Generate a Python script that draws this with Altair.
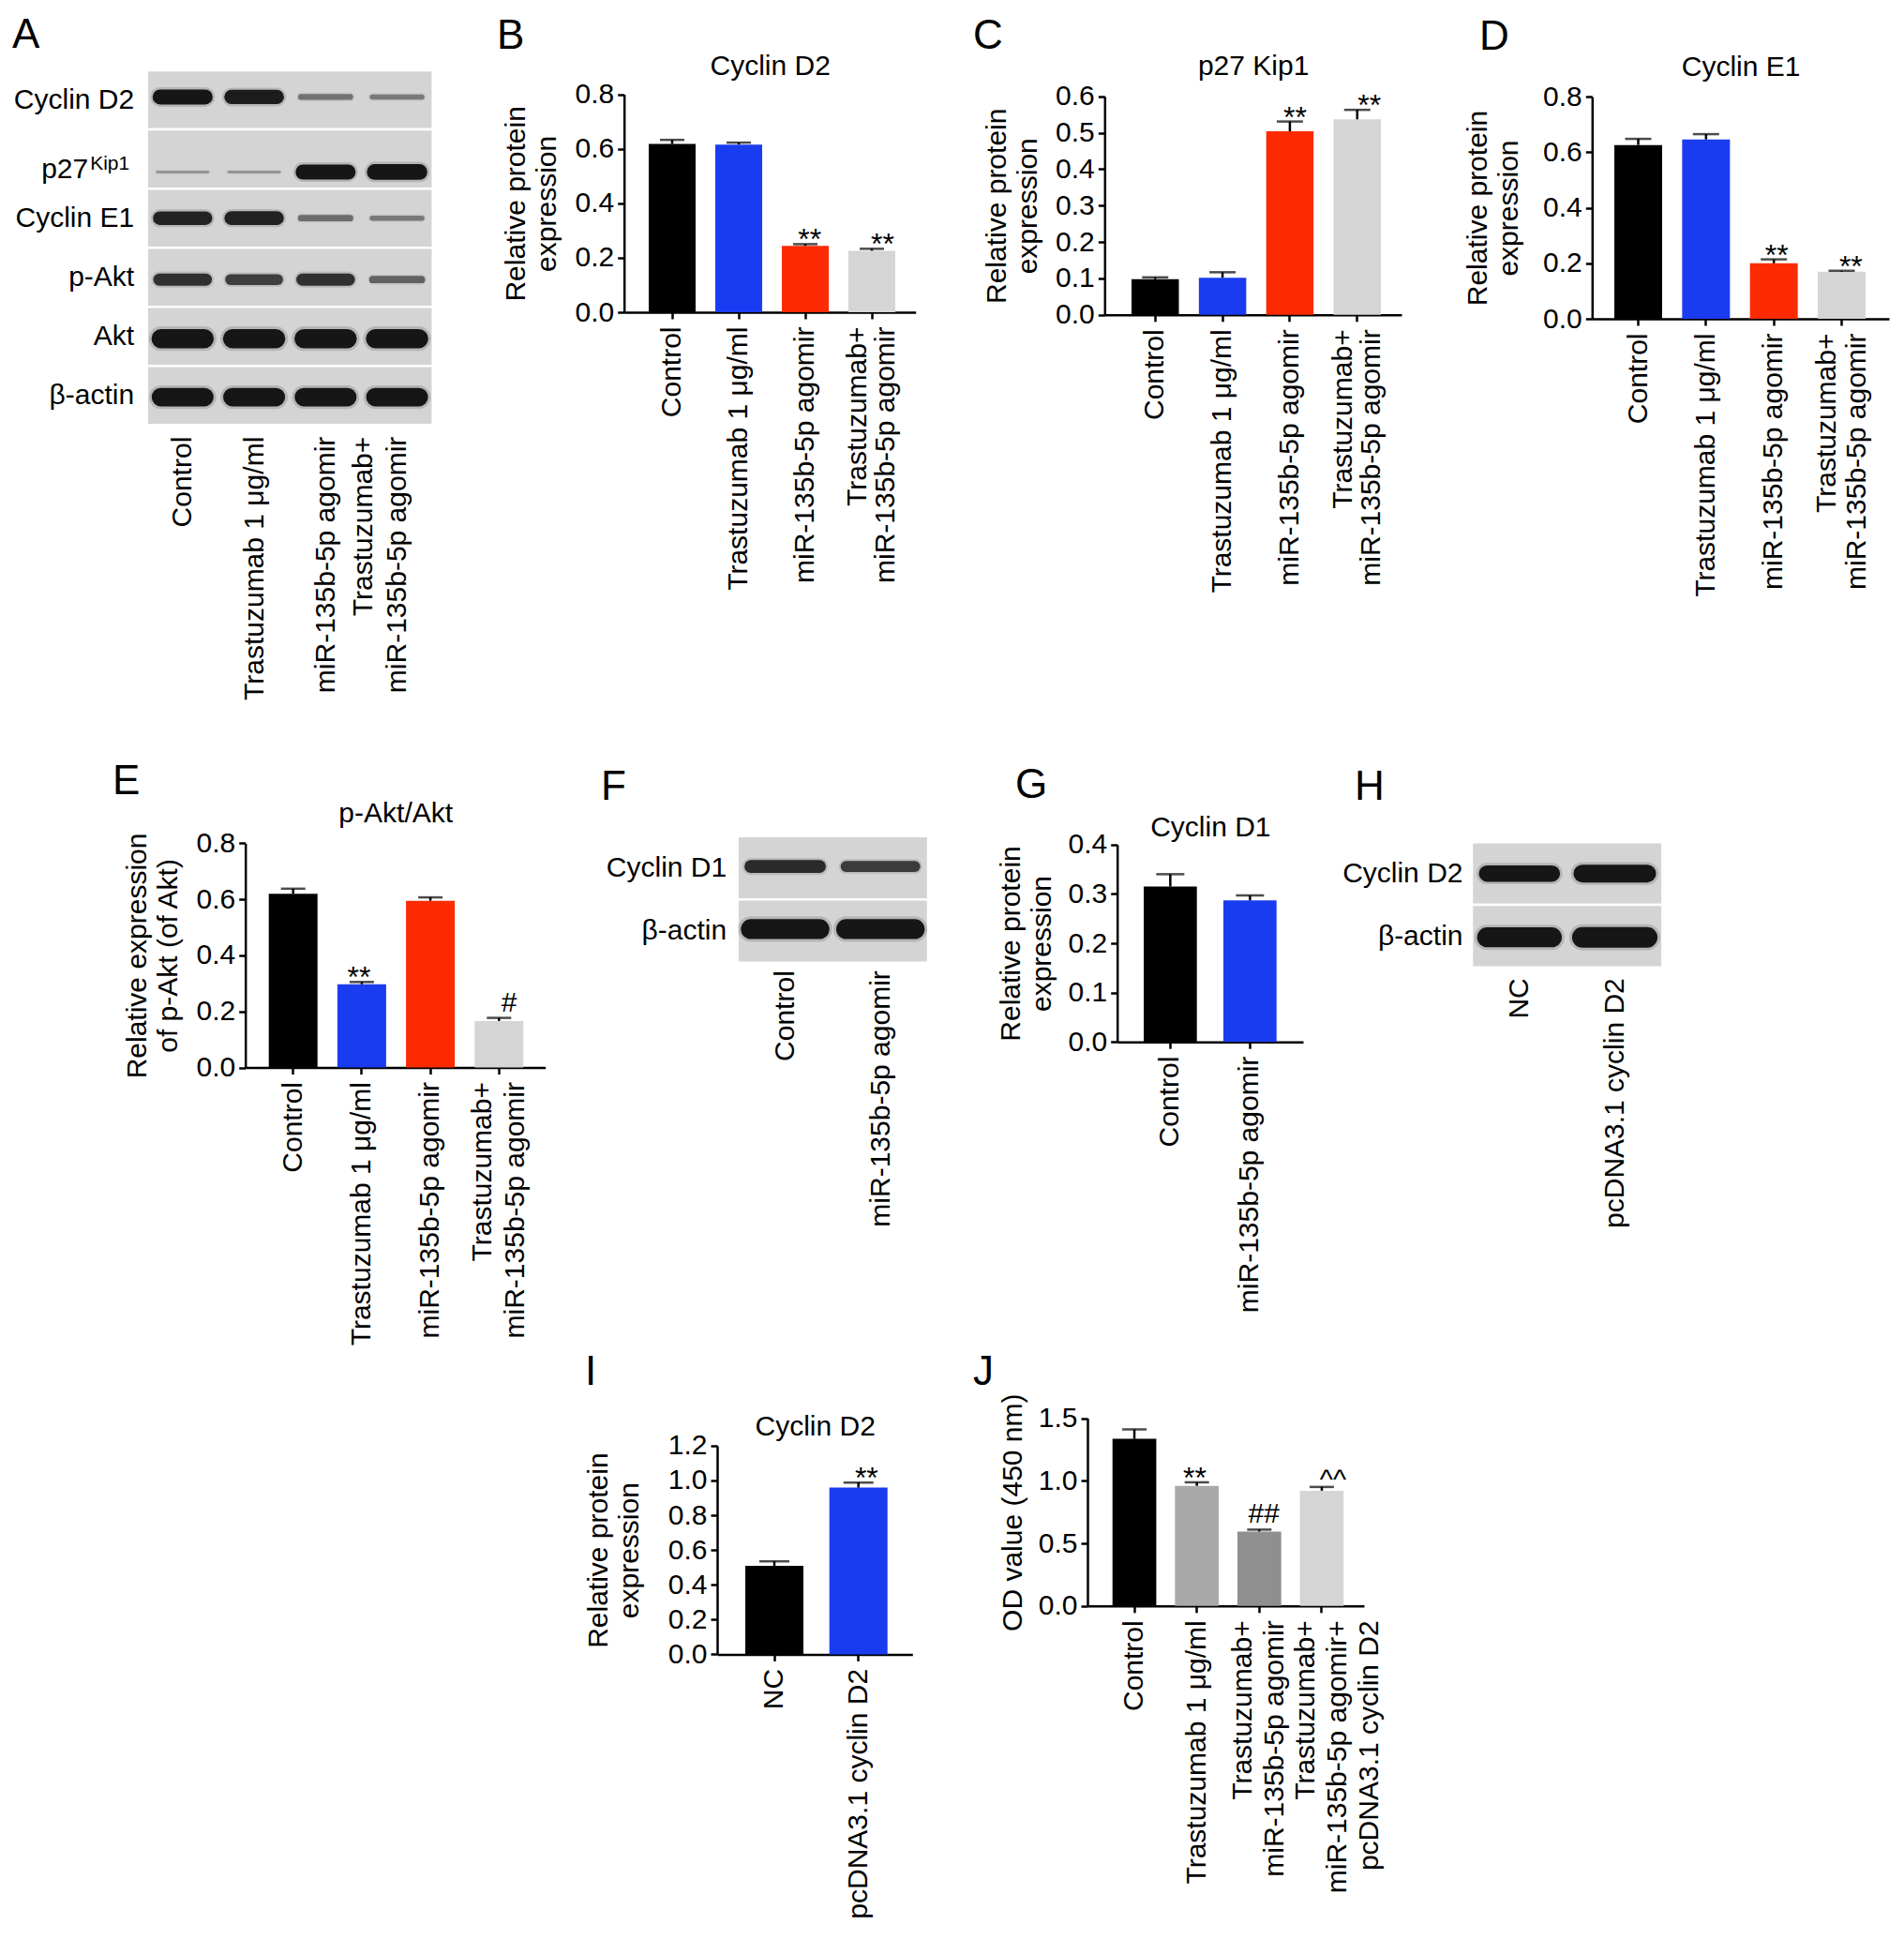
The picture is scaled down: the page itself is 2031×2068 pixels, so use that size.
import json
import altair as alt
import pandas as pd

# ------------------------------------------------------------------ data
GROUPS = ["Control", "Trastuzumab 1 μg/ml", "miR-135b-5p agomir",
          "Trastuzumab+\nmiR-135b-5p agomir"]
GROUP_COLORS = ["#000000", "#1a3cf0", "#fc2a00", "#d5d5d5"]

CYCLIN_D2_MEAN = [0.618, 0.616, 0.244, 0.226]
CYCLIN_D2_SEM = [0.015, 0.007, 0.006, 0.007]
CYCLIN_D2_SIG = ["", "", "**", "**"]
CYCLIN_D2_TICKS = [0.0, 0.2, 0.4, 0.6, 0.8]

P27_MEAN = [0.098, 0.102, 0.504, 0.537]
P27_SEM = [0.005, 0.015, 0.027, 0.026]
P27_SIG = ["", "", "**", "**"]
P27_TICKS = [0.0, 0.1, 0.2, 0.3, 0.4, 0.5, 0.6]

CYCLIN_E1_MEAN = [0.626, 0.646, 0.200, 0.170]
CYCLIN_E1_SEM = [0.022, 0.019, 0.014, 0.003]
CYCLIN_E1_SIG = ["", "", "**", "**"]
CYCLIN_E1_TICKS = [0.0, 0.2, 0.4, 0.6, 0.8]

PAKT_MEAN = [0.620, 0.297, 0.595, 0.166]
PAKT_SEM = [0.018, 0.008, 0.012, 0.011]
PAKT_SIG = ["", "**", "", "#"]
PAKT_TICKS = [0.0, 0.2, 0.4, 0.6, 0.8]

D1_GROUPS = ["Control", "miR-135b-5p agomir"]
D1_COLORS = ["#000000", "#1a3cf0"]
D1_MEAN = [0.315, 0.287]
D1_SEM = [0.025, 0.010]
D1_SIG = ["", ""]
D1_TICKS = [0.0, 0.1, 0.2, 0.3, 0.4]

OE_GROUPS = ["NC", "pcDNA3.1 cyclin D2"]
OE_COLORS = ["#000000", "#1a3cf0"]
OE_MEAN = [0.509, 0.959]
OE_SEM = [0.026, 0.029]
OE_SIG = ["", "**"]
OE_TICKS = [0.0, 0.2, 0.4, 0.6, 0.8, 1.0, 1.2]

OD_GROUPS = ["Control", "Trastuzumab 1 μg/ml", "Trastuzumab+\nmiR-135b-5p agomir",
             "Trastuzumab+\nmiR-135b-5p agomir+\npcDNA3.1 cyclin D2"]
OD_COLORS = ["#000000", "#a9a9a9", "#8f8f8f", "#d5d5d5"]
OD_MEAN = [1.335, 0.960, 0.595, 0.921]
OD_SEM = [0.076, 0.028, 0.015, 0.030]
OD_SIG = ["", "**", "##", "^^"]
OD_TICKS = [0.0, 0.5, 1.0, 1.5]

# western blots: band signal per row (protein) x lane
BLOT_A_ROWS = ["Cyclin D2", "p27", "Cyclin E1", "p-Akt", "Akt", "β-actin"]
BLOT_A_SUP = ["", "Kip1", "", "", "", ""]
BLOT_A_SIGNAL = [
    [1.00, 0.95, 0.35, 0.30],
    [0.12, 0.12, 1.00, 1.05],
    [0.90, 0.92, 0.38, 0.30],
    [0.80, 0.70, 0.80, 0.45],
    [1.30, 1.30, 1.30, 1.30],
    [1.25, 1.25, 1.25, 1.25],
]
BLOT_A_BANDPOS = [0.45, 0.72, 0.50, 0.54, 0.54, 0.53]

BLOT_F_ROWS = ["Cyclin D1", "β-actin"]
BLOT_F_SUP = ["", ""]
BLOT_F_SIGNAL = [[0.85, 0.72], [1.35, 1.35]]
BLOT_F_BANDPOS = [0.48, 0.47]

BLOT_H_ROWS = ["Cyclin D2", "β-actin"]
BLOT_H_SUP = ["", ""]
BLOT_H_SIGNAL = [[1.10, 1.20], [1.35, 1.40]]
BLOT_H_BANDPOS = [0.50, 0.52]

LETTERS = list("ABCDEFGHIJ")

# ------------------------------------------------------------------ layout (image px)
W, H = 2015, 2052
M = 8
FONT = "Liberation Sans"


def vx(v):
    return v - M


def vy(v):
    return v - M


BAR_LAYOUT = {
    "B": dict(x0=665.7, x1=976.7, first=692, last=955, bw=50, y0=333.0, ytop=100.7, cap=26, ytpad=14.7, tpad=21, lh=30),
    "C": dict(x0=1178.3, x1=1495, first=1207, last=1473, bw=50.5, y0=335.8, ytop=102.8, cap=28, ytpad=13.9, tpad=23, lh=30),
    "D": dict(x0=1698.3, x1=2015, first=1722, last=1990, bw=51, y0=340.0, ytop=103.1, cap=28, ytpad=20.6, tpad=23, lh=32),
    "E": dict(x0=261.7, x1=581.7, first=286.7, last=558.3, bw=52, y0=1138.5, ytop=899.4, cap=26, ytpad=14, tpad=23, lh=35),
    "G": dict(x0=1191.7, x1=1390, first=1220, last=1361.7, bw=56.7, y0=1111.2, ytop=900.8, cap=30, ytpad=12.2, tpad=9, lh=32),
    "I": dict(x0=765, x1=973.3, first=795, last=946.7, bw=62, y0=1764.4, ytop=1541.9, cap=32, ytpad=25.9, tpad=11, lh=32),
    "J": dict(x0=1160, x1=1455, first=1186.7, last=1433.3, bw=46.7, y0=1712.8, ytop=1512.6, cap=26, ytpad=12.2, tpad=0, lh=34),
}

BLOT_LAYOUT = {
    "A": dict(x0=156.7, x1=461.7, y0=75.1, y1=453.2, half=0.36, half_k=0.045, row_pad=14, lane_pad=12,
              lh=36, off=-36, sup_pad=19, sup_main_pad=63, sup_off=5, sup_main_off=11),
    "F": dict(x0=786.7, x1=990.0, y0=891.7, y1=1026.7, half=0.36, half_k=0.0, row_pad=12, lane_pad=8, lh=32, off=-16),
    "H": dict(x0=1570.0, x1=1773.3, y0=898.3, y1=1031.7, half=0.34, half_k=0.0, row_pad=10, lane_pad=11, lh=32, off=-16),
}

LETTER_POS = {"A": (13, 51), "B": (530, 52), "C": (1038, 52), "D": (1578, 52.6),
              "E": (120, 847), "F": (641, 853), "G": (1083, 851.4), "H": (1445, 853),
              "I": (624, 1477), "J": (1038, 1477)}

SYMBOL_STYLE = [("*", 6, 32), ("#", -7, 30), ("^", 2, 30)]


def multiline_offset(expr, shift):
    """Shift tick labels that wrap onto several lines to the left of their tick."""
    n_lines = f"length(split({expr}, '\\n'))"
    return {"condition": {"test": f"{n_lines} >= 2", "value": shift}, "value": 0}


# ------------------------------------------------------------------ builders
def bar_panel(key, groups, colors, means, sems, sigs, ticks, ytitle, title):
    lay = BAR_LAYOUT[key]
    n = len(groups)
    step = (lay["last"] - lay["first"] - lay["bw"]) / (n - 1)
    p_in = 1 - lay["bw"] / step
    span = lay["x1"] - lay["x0"]
    p_out = (span / step - (n - p_in)) / 2
    al = (lay["first"] - lay["x0"]) / (span - step * (n - p_in))

    def xs():
        return alt.Scale(domain=groups, range=[vx(lay["x0"]), vx(lay["x1"])],
                         paddingInner=p_in, paddingOuter=p_out, align=al)

    def ys():
        return alt.Scale(domain=[0, ticks[-1]], range=[vy(lay["y0"]), vy(lay["ytop"])],
                         nice=False, zero=True)

    df = pd.DataFrame({"g": groups, "m": means,
                       "top": [a + b for a, b in zip(means, sems)],
                       "c": colors, "s": sigs})
    base = alt.Chart(df)

    x_axis = alt.Axis(orient="bottom", offset=vy(lay["y0"]) - H, title=None,
                      labelAngle=-90, labelAlign="right", labelBaseline="middle",
                      labelExpr="split(datum.label, '\\n')", labelFontSize=30,
                      labelOffset=multiline_offset("datum.label", -lay["lh"] / 2),
                      labelPadding=8, labelLineHeight=lay["lh"], labelOverlap=False, grid=False)
    y_axis = alt.Axis(orient="left", offset=-vx(lay["x0"]), values=ticks, format=".1f",
                      title=ytitle, titlePadding=lay["ytpad"], titleLineHeight=33,
                      labelFontSize=30, labelPadding=4, grid=False, labelFlush=False)
    bars = base.mark_bar().encode(
        x=alt.X("g:N", scale=xs(), axis=x_axis),
        y=alt.Y("m:Q", scale=ys(), axis=y_axis),
        color=alt.Color("c:N", scale=None, legend=None),
    )
    if title:
        top_axis = alt.Axis(orient="top", offset=-vy(lay["ytop"]), title=title, labels=False,
                            ticks=False, domain=False, titlePadding=lay["tpad"],
                            titleBaseline="alphabetic", titleFontSize=30, grid=False)
    else:
        top_axis = None
    err = base.mark_rule(color="black", strokeWidth=2.5).encode(
        x=alt.X("g:N", scale=xs(), axis=top_axis),
        y=alt.Y("m:Q", scale=ys(), axis=None),
        y2="top:Q",
    )
    cap = base.mark_tick(color="black", thickness=2.5, size=lay["cap"], orient="horizontal").encode(
        x=alt.X("g:N", scale=xs(), axis=None),
        y=alt.Y("top:Q", scale=ys(), axis=None),
    )
    out = [bars, err, cap]
    for sym, dy, fs in SYMBOL_STYLE:
        sub = df[df["s"].str.startswith(sym)]
        if len(sub):
            out.append(alt.Chart(sub).mark_text(dy=dy, fontSize=fs, baseline="alphabetic",
                                                color="black").encode(
                x=alt.X("g:N", scale=xs(), axis=None),
                y=alt.Y("top:Q", scale=ys(), axis=None),
                text="s:N",
            ))
    return out


def blot_panel(key, rows, sups, lanes, signal, bandpos):
    lay = BLOT_LAYOUT[key]
    nr, nl = len(rows), len(lanes)

    def xs():
        return alt.Scale(domain=[0.5, nl + 0.5], range=[vx(lay["x0"]), vx(lay["x1"])],
                         nice=False, zero=False)

    def ys():
        return alt.Scale(domain=[0, nr], range=[vy(lay["y0"]), vy(lay["y1"])],
                         nice=False, zero=False)

    rows_js = json.dumps(rows, ensure_ascii=False)
    sups_js = json.dumps(sups, ensure_ascii=False)
    lanes_js = json.dumps(lanes, ensure_ascii=False)
    plain_vals = [r + 0.5 for r in range(nr) if not sups[r]]
    sup_vals = [r + 0.5 for r in range(nr) if sups[r]]
    lane_name = f"{lanes_js}[round(datum.value) - 1]"

    lane_axis = alt.Axis(orient="bottom", offset=vy(lay["y1"]) - H, values=list(range(1, nl + 1)),
                         labelExpr=f"split({lane_name}, '\\n')",
                         labelOffset=multiline_offset(lane_name, lay["off"]),
                         labelAngle=-90, labelAlign="right", labelBaseline="middle",
                         ticks=False, domain=False, labelPadding=lay["lane_pad"],
                         labelFontSize=30, labelLineHeight=lay["lh"], labelOverlap=False,
                         labelFlush=False, title=None, grid=False)
    row_axis = alt.Axis(orient="left", offset=-vx(lay["x0"]), values=plain_vals,
                        labelExpr=f"{rows_js}[floor(datum.value)]", ticks=False, domain=False,
                        labelPadding=lay["row_pad"], labelFontSize=30, labelOverlap=False,
                        labelFlush=False, title=None, grid=False)

    strips = alt.Chart(pd.DataFrame({"row": list(range(nr))})).transform_calculate(
        ya="datum.row", yb="datum.row + 1", xa="0.5", xb=f"{nl} + 0.5"
    ).mark_rect(fill="#d4d4d4", stroke="white", strokeWidth=2.5).encode(
        x=alt.X("xa:Q", scale=xs(), axis=lane_axis), x2="xb:Q",
        y=alt.Y("ya:Q", scale=ys(), axis=row_axis), y2="yb:Q",
    )

    recs = [{"row": r, "lane": l + 1, "sig": signal[r][l], "pos": r + bandpos[r]}
            for r in range(nr) for l in range(nl)]
    half, hk = lay["half"], lay["half_k"]
    bands = alt.Chart(pd.DataFrame(recs)).transform_calculate(
        xa=f"datum.lane - ({half} - {hk} * datum.sig)",
        xb=f"datum.lane + ({half} - {hk} * datum.sig)")

    if sup_vals:
        main_axis = alt.Axis(orient="left", offset=-vx(lay["x0"]), values=sup_vals,
                             labelExpr=f"{rows_js}[floor(datum.value)]", ticks=False, domain=False,
                             labelPadding=lay["sup_main_pad"], labelOffset=lay["sup_main_off"],
                             labelFontSize=30, labelFlush=False, title=None, grid=False)
        sup_axis = alt.Axis(orient="left", offset=-vx(lay["x0"]), values=sup_vals,
                            labelExpr=f"{sups_js}[floor(datum.value)]", ticks=False, domain=False,
                            labelPadding=lay["sup_pad"], labelOffset=lay["sup_off"],
                            labelFontSize=21, labelFlush=False, title=None, grid=False)
    else:
        main_axis = None
        sup_axis = None

    halo = bands.mark_rule(color="#3c3c3c", strokeCap="round").encode(
        x=alt.X("xa:Q", scale=xs(), axis=None), x2="xb:Q",
        y=alt.Y("pos:Q", scale=ys(), axis=main_axis),
        strokeWidth=alt.StrokeWidth("sig:Q", scale=alt.Scale(domain=[0, 1.4], range=[3, 28]), legend=None),
        opacity=alt.Opacity("sig:Q", scale=alt.Scale(domain=[0, 1], range=[0.04, 0.2], clamp=True), legend=None),
    )
    core = bands.mark_rule(color="#161616", strokeCap="round").encode(
        x=alt.X("xa:Q", scale=xs(), axis=None), x2="xb:Q",
        y=alt.Y("pos:Q", scale=ys(), axis=sup_axis),
        strokeWidth=alt.StrokeWidth("sig:Q", scale=alt.Scale(domain=[0, 1.4], range=[1, 22]), legend=None),
        opacity=alt.Opacity("sig:Q", scale=alt.Scale(domain=[0, 1], range=[0.2, 1], clamp=True), legend=None),
    )
    return [strips, halo, core]


# ------------------------------------------------------------------ assemble
RP = ["Relative protein", "expression"]
layers = []
layers += blot_panel("A", BLOT_A_ROWS, BLOT_A_SUP, GROUPS, BLOT_A_SIGNAL, BLOT_A_BANDPOS)
layers += blot_panel("F", BLOT_F_ROWS, BLOT_F_SUP, D1_GROUPS, BLOT_F_SIGNAL, BLOT_F_BANDPOS)
layers += blot_panel("H", BLOT_H_ROWS, BLOT_H_SUP, OE_GROUPS, BLOT_H_SIGNAL, BLOT_H_BANDPOS)
layers += bar_panel("B", GROUPS, GROUP_COLORS, CYCLIN_D2_MEAN, CYCLIN_D2_SEM, CYCLIN_D2_SIG,
                    CYCLIN_D2_TICKS, RP, "Cyclin D2")
layers += bar_panel("C", GROUPS, GROUP_COLORS, P27_MEAN, P27_SEM, P27_SIG,
                    P27_TICKS, RP, "p27 Kip1")
layers += bar_panel("D", GROUPS, GROUP_COLORS, CYCLIN_E1_MEAN, CYCLIN_E1_SEM, CYCLIN_E1_SIG,
                    CYCLIN_E1_TICKS, RP, "Cyclin E1")
layers += bar_panel("E", GROUPS, GROUP_COLORS, PAKT_MEAN, PAKT_SEM, PAKT_SIG,
                    PAKT_TICKS, ["Relative expression", "of p-Akt (of Akt)"], "p-Akt/Akt")
layers += bar_panel("G", D1_GROUPS, D1_COLORS, D1_MEAN, D1_SEM, D1_SIG,
                    D1_TICKS, RP, "Cyclin D1")
layers += bar_panel("I", OE_GROUPS, OE_COLORS, OE_MEAN, OE_SEM, OE_SIG,
                    OE_TICKS, RP, "Cyclin D2")
layers += bar_panel("J", OD_GROUPS, OD_COLORS, OD_MEAN, OD_SEM, OD_SIG,
                    OD_TICKS, "OD value (450 nm)", None)

for L in LETTERS:
    lx, ly = LETTER_POS[L]
    layers.append(
        alt.Chart(pd.DataFrame({"t": [L]})).mark_text(
            fontSize=44, align="left", baseline="alphabetic", color="black"
        ).encode(text="t:N", x=alt.value(vx(lx)), y=alt.value(vy(ly)))
    )

chart = alt.layer(*layers).resolve_scale(
    x="independent", y="independent", strokeWidth="independent", opacity="independent"
).properties(
    width=W, height=H, padding=0, autosize=alt.AutoSizeParams(type="none")
).configure(font=FONT).configure_view(stroke=None).configure_axis(
    domainColor="black", domainWidth=2.5, tickColor="black", tickWidth=2.5, tickSize=7,
    labelColor="black", titleColor="black", labelFontSize=30, titleFontSize=30,
    titleFontWeight="normal", labelFont=FONT, titleFont=FONT, grid=False, labelLimit=1000,
)

chart.save("out.html", embed_options={"renderer": "svg", "actions": False})
